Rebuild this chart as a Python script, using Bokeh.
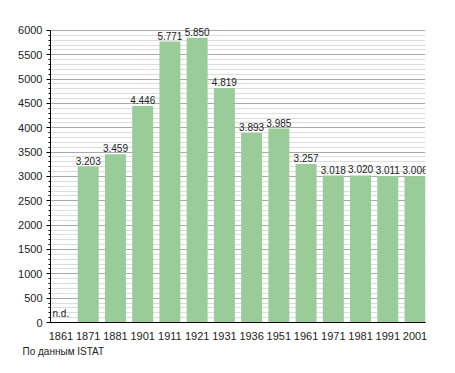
from bokeh.plotting import figure
from bokeh.models import ColumnDataSource, FixedTicker, Range1d, Label, Title
from bokeh.core.properties import value
from bokeh.embed import file_html
from bokeh.resources import INLINE

years = ["1861", "1871", "1881", "1901", "1911", "1921", "1931", "1936", "1951", "1961", "1971", "1981", "1991", "2001"]
population = [None, 3203, 3459, 4446, 5771, 5850, 4819, 3893, 3985, 3257, 3018, 3020, 3011, 3006]
y_major_ticks = [0, 500, 1000, 1500, 2000, 2500, 3000, 3500, 4000, 4500, 5000, 5500, 6000]
y_max = 6000
source_note = "По данным ISTAT"
missing_note = "n.d."

FONT = "Liberation Sans"
BAR_W = 0.77
FRAME_TOP_PAD = 20          # px of headroom above the 6000 line for labels
AXIS_PX = 293               # px from 0 to 6000

idx = [i for i, v in enumerate(population) if v is not None]
vals = [population[i] for i in idx]
labels = [f"{v:,}".replace(",", ".") for v in vals]
src = ColumnDataSource(dict(x=idx, top=vals, label=labels))

y_end = y_max * (AXIS_PX + FRAME_TOP_PAD) / AXIS_PX
minor = [t for t in range(0, y_max + 1, 100) if t % 500 != 0]

p = figure(width=439, height=357, output_backend="svg", toolbar_location=None,
           x_range=Range1d(-BAR_W / 2, len(years) - 1 + BAR_W / 2),
           y_range=Range1d(0, y_end),
           min_border_left=50, min_border_right=14, min_border_top=30 - FRAME_TOP_PAD,
           min_border_bottom=34)
p.outline_line_color = None
p.background_fill_color = "white"
p.border_fill_color = "white"

p.vbar(x="x", top="top", width=BAR_W, bottom=0, source=src,
       fill_color="#99cc99", line_color=None)
p.text(x="x", y="top", text="label", source=src, text_align="center",
       text_baseline="bottom", y_offset=-2, text_font=value(FONT),
       text_font_size="10px", text_color="#222222")
p.add_layout(Label(x=-BAR_W / 2, y=0, text=missing_note, x_offset=2, y_offset=4,
                   text_font=FONT, text_font_size="10px", text_color="#222222"))

# y axis
p.yaxis.ticker = FixedTicker(ticks=y_major_ticks, minor_ticks=minor)
p.yaxis.bounds = (0, y_max)
p.yaxis.axis_line_color = "black"
p.yaxis.major_tick_line_color = "black"
p.yaxis.major_tick_out = 4
p.yaxis.major_tick_in = 0
p.yaxis.minor_tick_line_color = "black"
p.yaxis.minor_tick_out = 2
p.yaxis.minor_tick_in = 0
p.yaxis.major_label_standoff = 4
p.yaxis.major_label_text_font = FONT
p.yaxis.major_label_text_font_size = "11px"
p.yaxis.major_label_text_color = "#222222"

# x axis
p.xaxis.ticker = FixedTicker(ticks=list(range(len(years))))
p.xaxis.major_label_overrides = {i: y for i, y in enumerate(years)}
p.xaxis.axis_line_color = "black"
p.xaxis.major_tick_line_color = None
p.xaxis.minor_tick_line_color = None
p.xaxis.major_label_standoff = 3
p.xaxis.major_label_text_font = FONT
p.xaxis.major_label_text_font_size = "11px"
p.xaxis.major_label_text_color = "#222222"

# grids
p.xgrid.grid_line_color = None
p.ygrid.grid_line_color = "#aaaaaa"
p.ygrid.minor_grid_line_color = "#dddddd"
p.ygrid.level = "underlay"

p.add_layout(Title(text=source_note, align="left", offset=-28, standoff=2,
                   text_font=FONT, text_font_size="10px", text_font_style="normal",
                   text_color="#222222"), "below")

open("out.html", "w").write(file_html(p, INLINE))
